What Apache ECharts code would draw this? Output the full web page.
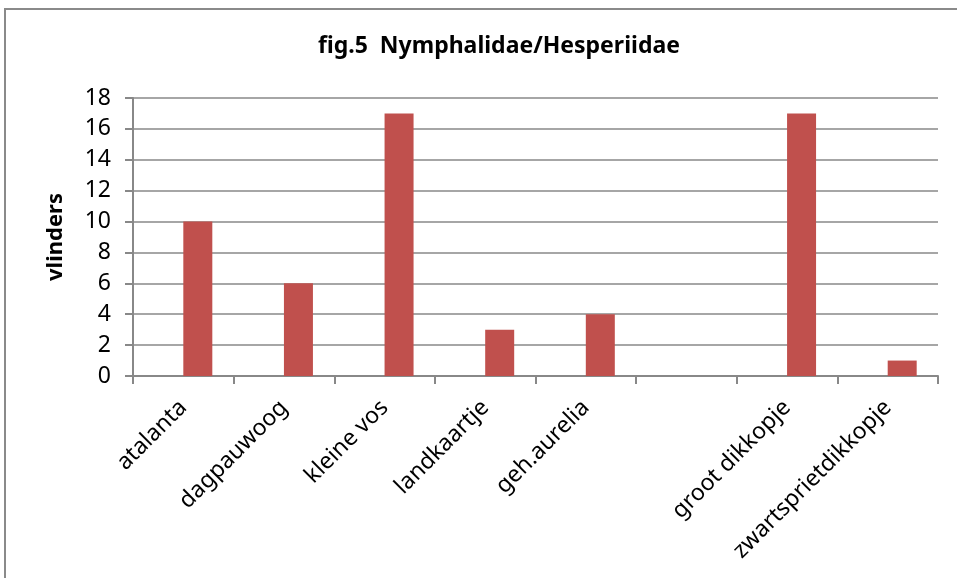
<!DOCTYPE html>
<html><head><meta charset="utf-8">
<script src="https://cdn.jsdelivr.net/npm/echarts@6/dist/echarts.min.js"></script>
<style>html,body{margin:0;padding:0;background:#fff}#c{width:957px;height:578px}</style>
</head><body><div id="c"></div>
<script>
const categories = ['atalanta','dagpauwoog','kleine vos','landkaartje','geh.aurelia','','groot dikkopje','zwartsprietdikkopje'];
const emptySeries = [null,null,null,null,null,null,null,null];
const counts = [10,6,17,3,4,null,17,1];
const yTicks = {min:0,max:18,interval:2};
const titleText = 'fig.5  Nymphalidae/Hesperiidae';
const yName = 'vlinders';

const font = 'Noto Sans';
const chart = echarts.init(document.getElementById('c'));
chart.setOption({
  animation:false,
  backgroundColor:'#fff',
  graphic:[{type:'rect',shape:{x:5,y:9,width:1000,height:600},style:{fill:'none',stroke:'#8a8a8a',lineWidth:2},silent:true}],
  title:{text:titleText,left:313,top:30,textStyle:{fontFamily:font,fontSize:23,fontWeight:'bold',color:'#000'}},
  grid:{left:133,right:19,top:98,bottom:202,containLabel:false},
  xAxis:{type:'category',data:categories,
    axisLine:{lineStyle:{color:'#888',width:2}},
    axisTick:{show:true,alignWithLabel:false,length:8,lineStyle:{color:'#888',width:2}},
    axisLabel:{interval:0,rotate:45,margin:28,fontFamily:font,fontSize:23,color:'#000'},
    splitLine:{show:false}},
  yAxis:{type:'value',min:yTicks.min,max:yTicks.max,interval:yTicks.interval,
    name:yName,nameLocation:'middle',nameGap:66,nameRotate:90,
    nameTextStyle:{fontFamily:font,fontSize:22,fontWeight:'bold',color:'#000'},
    axisLine:{show:true,lineStyle:{color:'#888',width:2}},
    axisTick:{show:true,length:8,lineStyle:{color:'#888',width:2}},
    axisLabel:{margin:22,fontFamily:font,fontSize:23,color:'#000'},
    splitLine:{lineStyle:{color:'#888',width:1.5}}},
  series:[
    {type:'bar',data:emptySeries,barWidth:29,barGap:'0%',itemStyle:{color:'#4F81BD'}},
    {type:'bar',data:counts,barWidth:29,barGap:'0%',itemStyle:{color:'#C0504D'}}
  ]
});
</script></body></html>
